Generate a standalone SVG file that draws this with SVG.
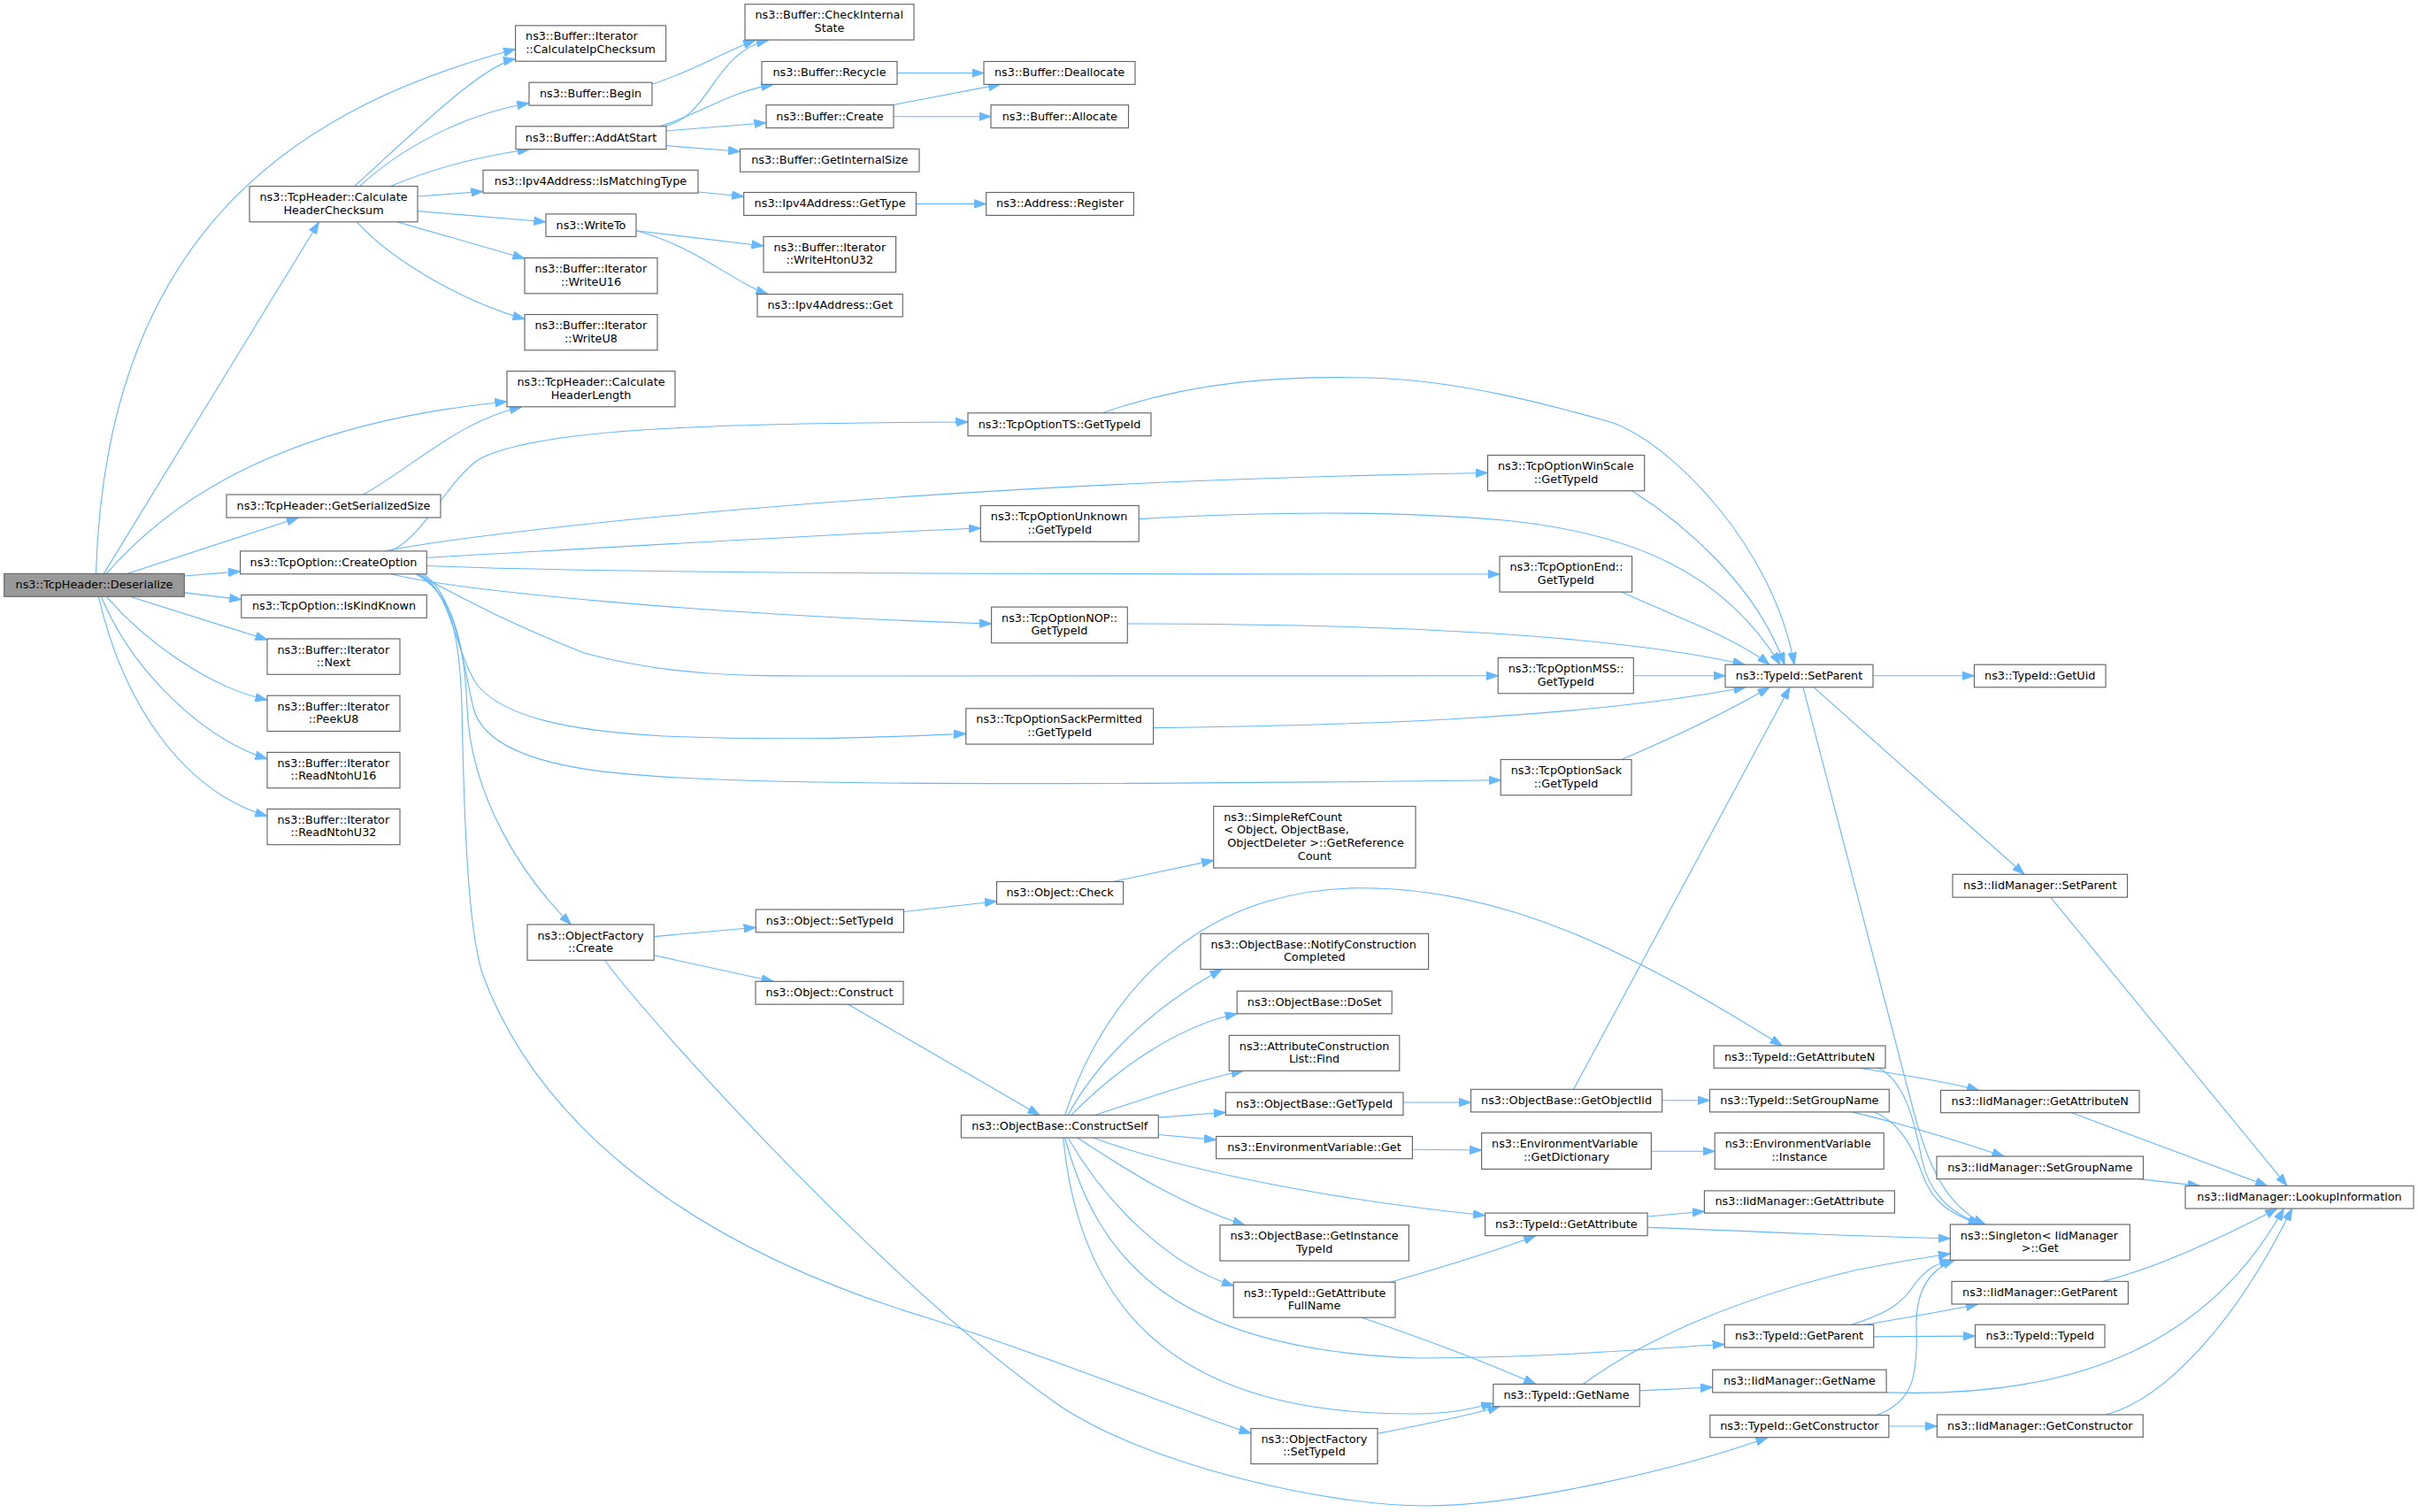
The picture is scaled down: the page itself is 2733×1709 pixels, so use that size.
<svg xmlns="http://www.w3.org/2000/svg" width="2733" height="1709" viewBox="0 0 2733 1709">
<style>
.n rect{fill:#ffffff;stroke:#666666;stroke-width:1.15}
.n.h rect{fill:#999999}
.n text{font-family:"DejaVu Sans","Liberation Sans",sans-serif;font-size:12.8px;fill:#000000}
.m{text-anchor:middle}
.s{text-anchor:start}
.e path{fill:none;stroke:#63b8ff;stroke-width:1.1;marker-end:url(#arr)}
</style>
<defs>
<marker id="arr" viewBox="0 0 14 10" refX="13.5" refY="5" markerWidth="14" markerHeight="10" markerUnits="userSpaceOnUse" orient="auto">
<path d="M0,0.3 L13.5,5 L0,9.7 z" fill="#63b8ff" stroke="#63b8ff" stroke-width="1"/>
</marker>
</defs>
<rect x="0" y="0" width="2733" height="1709" fill="#ffffff"/>
<g id="edges" class="e">
<path d="M108.5,648.4 C120,250 350,118 582.6,55.5"/>
<path d="M117.3,648.4 L360.5,251"/>
<path d="M120.3,648.4 C180,580 300,480 573,454"/>
<path d="M143.7,648.4 L337.4,585"/>
<path d="M208.3,651 L271.6,645.8"/>
<path d="M208.3,669.9 L272.8,677.6"/>
<path d="M146.7,674.3 L302,723"/>
<path d="M120.3,674.3 C160,720 230,775 302,791.2"/>
<path d="M114.4,674.3 C150,760 230,835 302,857.8"/>
<path d="M111.5,674.3 C140,800 210,895 302,922.5"/>
<path d="M400.7,210.5 C470,147.5 545,74 582.6,66.6"/>
<path d="M406.6,210.5 C450,170 520,130 598,116.5"/>
<path d="M441.2,210.5 C490,190 545,176 598.4,168.7"/>
<path d="M472,222 L546,216.4"/>
<path d="M472,238.6 L617,250.8"/>
<path d="M448.8,250.8 L593,292.2"/>
<path d="M403.6,250.8 C440,292 520,340 593,360.7"/>
<path d="M737,95 C780,82 815,60 853.6,45.5"/>
<path d="M751,142.8 C805,130 805,60 868.3,45.5"/>
<path d="M745,142.8 C790,130 820,105 874,95.4"/>
<path d="M752.7,148 L866,138.7"/>
<path d="M752.7,164.6 L836.6,171.3"/>
<path d="M1013.8,82.5 L1112,82.5"/>
<path d="M1008.5,118.7 L1130.6,95.4"/>
<path d="M1009.7,131.7 L1120,131.7"/>
<path d="M789,217 L840.7,222"/>
<path d="M1035.5,230.4 L1114.7,230.4"/>
<path d="M719.3,260.8 L863,278"/>
<path d="M719.3,260.8 C790,280 830,320 868,332.5"/>
<path d="M410.7,559 C470,525 520,475 589.6,460"/>
<path d="M441.7,622.9 C480,605 505,545 540,520 C600,485 800,478 1094,477"/>
<path d="M435,622.9 C520,605 1000,545 1681.5,534.5"/>
<path d="M482.3,630.3 C700,618 950,603 1108.3,597"/>
<path d="M482.3,639.5 C650,646 900,649 1695,649"/>
<path d="M441.7,648.8 C520,668 800,695 1120.6,705"/>
<path d="M470,648.8 C500,662 540,690 660,738 C760,765 850,764 920,764 L1693.2,763.8"/>
<path d="M475,648.8 C510,668 515,740 540,775 C570,810 640,826 750,832 C900,838 1000,833 1091.8,829.3"/>
<path d="M478,648.8 C515,670 525,760 535,800 C545,840 600,865 704,874.4 C800,884 1000,890 1696.2,881.8"/>
<path d="M470,648.8 C510,670 525,720 528,800 C532,900 590,990 645.4,1045"/>
<path d="M472,648.8 C510,670 520,720 522,800 C525,950 530,1050 545,1100 C600,1250 750,1400 1050,1490 C1200,1538 1350,1600 1413.9,1620"/>
<path d="M683.5,1085.3 C730,1150 1000,1450 1192.8,1585.5 C1292.8,1655.5 1500,1702 1610,1702 C1720,1702 1900,1660 1998,1624.7"/>
<path d="M739.2,1058.6 L854.2,1048.3"/>
<path d="M739.2,1079.7 L874,1109.3"/>
<path d="M1021.4,1030.5 L1126.5,1018.7"/>
<path d="M1257.9,996.5 L1371.7,972.4"/>
<path d="M958.7,1135.2 L1175,1260.4"/>
<path d="M1203.6,1260.4 C1240,1150 1330,1010 1527.8,1003.9 C1700,1000 1850,1080 2014.2,1182"/>
<path d="M1207,1260.4 C1240,1200 1300,1140 1381,1095.6"/>
<path d="M1210.7,1260.4 C1260,1210 1330,1160 1398.2,1145.8"/>
<path d="M1237.5,1260.4 C1300,1240 1350,1222 1405.3,1210.3"/>
<path d="M1309.3,1263.1 L1385.3,1257.3"/>
<path d="M1309.3,1282.5 L1374.6,1288.4"/>
<path d="M1235.7,1286 C1300,1310 1450,1350 1678.6,1373.8"/>
<path d="M1217.8,1286 C1270,1320 1330,1360 1407,1384.7"/>
<path d="M1207,1286 C1250,1360 1320,1430 1394.6,1453.4"/>
<path d="M1203.6,1286 C1240,1420 1320,1525 1600,1535 C1750,1535 1850,1525 1949.2,1519.5"/>
<path d="M1201.8,1286 C1220,1480 1330,1600 1600,1598 C1640,1598 1665,1592 1687.8,1586"/>
<path d="M1586,1246 L1662.5,1246"/>
<path d="M1778.6,1231.3 L2023,776.8"/>
<path d="M1878.6,1243.7 L1932.5,1243.7"/>
<path d="M1596.4,1299.2 L1674.6,1300"/>
<path d="M1866.4,1301.2 L1938.2,1301.2"/>
<path d="M1571.4,1449.2 C1620,1435 1680,1418 1735.7,1396.7"/>
<path d="M1539.2,1489.2 C1600,1510 1680,1540 1735.7,1564.5"/>
<path d="M1557,1620.4 C1600,1612 1660,1600 1695,1589.8"/>
<path d="M1862.1,1375 L1926.4,1369.2"/>
<path d="M1862.1,1387.4 C2000,1392 2100,1398 2204.3,1399.8"/>
<path d="M1853.2,1571.9 L1935.7,1568"/>
<path d="M1789.3,1564.5 C1850,1520 1950,1470 2100,1435 C2140,1427 2170,1422 2204.3,1417"/>
<path d="M2101.7,1207.2 C2150,1215 2200,1222 2236.7,1232.4"/>
<path d="M2123.3,1207.2 C2150,1220 2163,1260 2172,1310 C2180,1345 2200,1370 2240,1384"/>
<path d="M2093.3,1256.9 C2150,1270 2220,1292 2265,1307"/>
<path d="M2118.3,1256.9 C2150,1270 2163,1300 2174,1330 C2185,1360 2205,1372 2238,1384"/>
<path d="M2107,1497.3 C2150,1490 2200,1482 2235.5,1474"/>
<path d="M2117.8,1510.9 L2232.5,1510.1"/>
<path d="M2092.8,1497.3 C2130,1485 2150,1475 2165,1450 C2180,1432 2190,1428 2205.8,1424.3"/>
<path d="M2132,1573.9 C2330,1580 2490,1530 2581.3,1366"/>
<path d="M2134.9,1612 L2189.4,1612"/>
<path d="M2121.4,1599.5 C2160,1585 2168,1560 2166,1500 C2165,1460 2180,1435 2209.5,1424.3"/>
<path d="M2380.5,1599 C2450,1580 2530,1490 2590.6,1366"/>
<path d="M2376.8,1448.4 C2430,1435 2500,1405 2573.9,1366"/>
<path d="M2417.7,1332.6 L2486.5,1340.4"/>
<path d="M2341.5,1257.7 L2562.7,1340.4"/>
<path d="M2317.7,1014.2 L2585,1340.4"/>
<path d="M2117,763.8 L2231.4,763.8"/>
<path d="M2050,776.8 L2288,988.3"/>
<path d="M2038,776.8 L2160,1245 C2175,1305 2195,1362 2244,1384"/>
<path d="M1246,466.8 C1350,430 1450,425 1545,427 C1650,429 1760,460 1820,477 C1890,500 2005,620 2028,751.2"/>
<path d="M1844.6,554.8 C1900,590 1985,660 2017,751.2"/>
<path d="M1287.2,586.6 C1400,580 1550,575 1700,588 C1850,603 1950,650 2012,751.2"/>
<path d="M1832.7,669.1 C1900,700 1960,720 2000,751.2"/>
<path d="M1274.3,705 C1500,705 1800,712 1972,751.2"/>
<path d="M1846.3,763.8 L1950,763.8"/>
<path d="M1303.6,822.6 C1550,820 1800,810 1973,776.8"/>
<path d="M1832.7,858.5 C1900,830 1960,800 2000,776.8"/>
</g>
<g id="n_deser" class="n h"><rect x="4.7" y="648.4" width="203.6" height="25.9"/><text class="m" x="106.5" y="665.2">ns3::TcpHeader::Deserialize</text></g>
<g id="n_chc" class="n"><rect x="282" y="210.5" width="190" height="40.3"/><text class="s" x="293.5" y="227">ns3::TcpHeader::Calculate</text><text class="m" x="377" y="241.5">HeaderChecksum</text></g>
<g id="n_gss" class="n"><rect x="256" y="559" width="242" height="26"/><text class="m" x="377" y="575.9">ns3::TcpHeader::GetSerializedSize</text></g>
<g id="n_co" class="n"><rect x="271.6" y="622.9" width="210.7" height="25.9"/><text class="m" x="377" y="639.7">ns3::TcpOption::CreateOption</text></g>
<g id="n_ikk" class="n"><rect x="272.8" y="672.5" width="209.5" height="25.8"/><text class="m" x="377.5" y="689.3">ns3::TcpOption::IsKindKnown</text></g>
<g id="n_next" class="n"><rect x="302" y="722" width="150" height="40.3"/><text class="s" x="313.5" y="738.5">ns3::Buffer::Iterator</text><text class="m" x="377" y="753">::Next</text></g>
<g id="n_peek" class="n"><rect x="302" y="786.2" width="150" height="40.3"/><text class="s" x="313.5" y="802.7">ns3::Buffer::Iterator</text><text class="m" x="377" y="817.2">::PeekU8</text></g>
<g id="n_rn16" class="n"><rect x="302" y="850.4" width="150" height="40.3"/><text class="s" x="313.5" y="866.9">ns3::Buffer::Iterator</text><text class="m" x="377" y="881.4">::ReadNtohU16</text></g>
<g id="n_rn32" class="n"><rect x="302" y="914.4" width="150" height="40.3"/><text class="s" x="313.5" y="930.9">ns3::Buffer::Iterator</text><text class="m" x="377" y="945.4">::ReadNtohU32</text></g>
<g id="n_calcip" class="n"><rect x="582.6" y="28.9" width="170.1" height="40.3"/><text class="s" x="594.1" y="45.4">ns3::Buffer::Iterator</text><text class="m" x="667.65" y="59.9">::CalculateIpChecksum</text></g>
<g id="n_begin" class="n"><rect x="598" y="93.2" width="139" height="25.9"/><text class="m" x="667.5" y="110">ns3::Buffer::Begin</text></g>
<g id="n_addat" class="n"><rect x="583" y="142.8" width="170" height="25.9"/><text class="m" x="668" y="159.6">ns3::Buffer::AddAtStart</text></g>
<g id="n_ismatch" class="n"><rect x="546" y="192.3" width="243" height="25.9"/><text class="m" x="667.5" y="209.1">ns3::Ipv4Address::IsMatchingType</text></g>
<g id="n_writeto" class="n"><rect x="617" y="241.9" width="102" height="25.5"/><text class="m" x="668" y="258.5">ns3::WriteTo</text></g>
<g id="n_wu16" class="n"><rect x="593" y="291.5" width="150" height="40.3"/><text class="s" x="604.5" y="308">ns3::Buffer::Iterator</text><text class="m" x="668" y="322.5">::WriteU16</text></g>
<g id="n_wu8" class="n"><rect x="593" y="355.5" width="150" height="40.3"/><text class="s" x="604.5" y="372">ns3::Buffer::Iterator</text><text class="m" x="668" y="386.5">::WriteU8</text></g>
<g id="n_chl" class="n"><rect x="573" y="419.5" width="190" height="40.3"/><text class="s" x="584.5" y="436">ns3::TcpHeader::Calculate</text><text class="m" x="668" y="450.5">HeaderLength</text></g>
<g id="n_ofcreate" class="n"><rect x="596" y="1045" width="143.2" height="40.3"/><text class="s" x="607.5" y="1061.5">ns3::ObjectFactory</text><text class="m" x="667.6" y="1076">::Create</text></g>
<g id="n_checkint" class="n"><rect x="842" y="4.8" width="191" height="40.3"/><text class="s" x="853.5" y="21.3">ns3::Buffer::CheckInternal</text><text class="m" x="937.5" y="35.8">State</text></g>
<g id="n_recycle" class="n"><rect x="861" y="69.5" width="153" height="25.9"/><text class="m" x="937.5" y="86.3">ns3::Buffer::Recycle</text></g>
<g id="n_create" class="n"><rect x="866" y="118.7" width="144" height="25.9"/><text class="m" x="938" y="135.5">ns3::Buffer::Create</text></g>
<g id="n_getint" class="n"><rect x="836.6" y="168.3" width="202.4" height="25.9"/><text class="m" x="937.8" y="185.1">ns3::Buffer::GetInternalSize</text></g>
<g id="n_gettype" class="n"><rect x="840.7" y="217.5" width="194.8" height="25.9"/><text class="m" x="938.1" y="234.3">ns3::Ipv4Address::GetType</text></g>
<g id="n_whton" class="n"><rect x="863" y="267.4" width="149.6" height="40.4"/><text class="s" x="874.5" y="283.9">ns3::Buffer::Iterator</text><text class="m" x="937.8" y="298.4">::WriteHtonU32</text></g>
<g id="n_ipv4get" class="n"><rect x="856" y="332.5" width="164.3" height="25.5"/><text class="m" x="938.15" y="349.1">ns3::Ipv4Address::Get</text></g>
<g id="n_objsettid" class="n"><rect x="854.2" y="1028" width="167.2" height="25.8"/><text class="m" x="937.8" y="1044.8">ns3::Object::SetTypeId</text></g>
<g id="n_objconstr" class="n"><rect x="854" y="1109.3" width="167" height="25.9"/><text class="m" x="937.5" y="1126.1">ns3::Object::Construct</text></g>
<g id="n_dealloc" class="n"><rect x="1112" y="69.5" width="171" height="25.9"/><text class="m" x="1197.5" y="86.3">ns3::Buffer::Deallocate</text></g>
<g id="n_alloc" class="n"><rect x="1120" y="118.7" width="155.5" height="25.9"/><text class="m" x="1197.75" y="135.5">ns3::Buffer::Allocate</text></g>
<g id="n_register" class="n"><rect x="1114.7" y="217.5" width="166.7" height="25.9"/><text class="m" x="1198" y="234.3">ns3::Address::Register</text></g>
<g id="n_ts" class="n"><rect x="1094" y="466.8" width="207" height="25.9"/><text class="m" x="1197.5" y="483.6">ns3::TcpOptionTS::GetTypeId</text></g>
<g id="n_unknown" class="n"><rect x="1108.3" y="571.5" width="178.9" height="40.7"/><text class="s" x="1119.8" y="588.2">ns3::TcpOptionUnknown</text><text class="m" x="1197.75" y="602.7">::GetTypeId</text></g>
<g id="n_nop" class="n"><rect x="1120.6" y="686.1" width="153.7" height="40.7"/><text class="s" x="1132.1" y="702.8">ns3::TcpOptionNOP::</text><text class="m" x="1197.45" y="717.3">GetTypeId</text></g>
<g id="n_sackperm" class="n"><rect x="1091.8" y="800.8" width="211.8" height="40.3"/><text class="s" x="1103.3" y="817.3">ns3::TcpOptionSackPermitted</text><text class="m" x="1197.7" y="831.8">::GetTypeId</text></g>
<g id="n_check" class="n"><rect x="1126.5" y="996.5" width="143.1" height="25.5"/><text class="m" x="1198" y="1013.1">ns3::Object::Check</text></g>
<g id="n_cself" class="n"><rect x="1086.4" y="1260.4" width="222.9" height="25.6"/><text class="m" x="1197.85" y="1277.1">ns3::ObjectBase::ConstructSelf</text></g>
<g id="n_simpleref" class="n"><rect x="1371.7" y="911.4" width="228.3" height="69.6"/><text class="s" x="1383.2" y="927.7">ns3::SimpleRefCount</text><text class="s" x="1383.2" y="942.3">&lt; Object, ObjectBase,</text><text class="s" x="1387.2" y="956.9">ObjectDeleter &gt;::GetReference</text><text class="m" x="1485.85" y="971.5">Count</text></g>
<g id="n_notify" class="n"><rect x="1357" y="1055.3" width="257.6" height="40.3"/><text class="s" x="1368.5" y="1071.8">ns3::ObjectBase::NotifyConstruction</text><text class="m" x="1485.8" y="1086.3">Completed</text></g>
<g id="n_doset" class="n"><rect x="1398.2" y="1120.2" width="175" height="25.6"/><text class="m" x="1485.7" y="1136.9">ns3::ObjectBase::DoSet</text></g>
<g id="n_find" class="n"><rect x="1389.3" y="1170.3" width="192.5" height="40"/><text class="s" x="1400.8" y="1186.6">ns3::AttributeConstruction</text><text class="m" x="1485.55" y="1201.1">List::Find</text></g>
<g id="n_obgettid" class="n"><rect x="1385.3" y="1234.8" width="200.7" height="25.6"/><text class="m" x="1485.65" y="1251.5">ns3::ObjectBase::GetTypeId</text></g>
<g id="n_envget" class="n"><rect x="1374.6" y="1284.5" width="221.8" height="25.2"/><text class="m" x="1485.5" y="1301">ns3::EnvironmentVariable::Get</text></g>
<g id="n_instid" class="n"><rect x="1378.9" y="1384.7" width="213.5" height="40.4"/><text class="s" x="1390.4" y="1401.2">ns3::ObjectBase::GetInstance</text><text class="m" x="1485.65" y="1415.7">TypeId</text></g>
<g id="n_attrfull" class="n"><rect x="1394.2" y="1449.2" width="182.8" height="40"/><text class="s" x="1405.7" y="1465.5">ns3::TypeId::GetAttribute</text><text class="m" x="1485.6" y="1480">FullName</text></g>
<g id="n_ofsettid" class="n"><rect x="1413.9" y="1614.6" width="143.1" height="40"/><text class="s" x="1425.4" y="1630.9">ns3::ObjectFactory</text><text class="m" x="1485.45" y="1645.4">::SetTypeId</text></g>
<g id="n_winscale" class="n"><rect x="1681.5" y="514.5" width="177.2" height="40.3"/><text class="s" x="1693" y="531">ns3::TcpOptionWinScale</text><text class="m" x="1770.1" y="545.5">::GetTypeId</text></g>
<g id="n_end" class="n"><rect x="1695" y="628.8" width="149.6" height="40.3"/><text class="s" x="1706.5" y="645.3">ns3::TcpOptionEnd::</text><text class="m" x="1769.8" y="659.8">GetTypeId</text></g>
<g id="n_mss" class="n"><rect x="1693.2" y="743.5" width="153.1" height="40.3"/><text class="s" x="1704.7" y="760">ns3::TcpOptionMSS::</text><text class="m" x="1769.75" y="774.5">GetTypeId</text></g>
<g id="n_sack" class="n"><rect x="1696.2" y="858.5" width="147.8" height="40.3"/><text class="s" x="1707.7" y="875">ns3::TcpOptionSack</text><text class="m" x="1770.1" y="889.5">::GetTypeId</text></g>
<g id="n_getobjiid" class="n"><rect x="1662.5" y="1231.3" width="216.1" height="25.6"/><text class="m" x="1770.55" y="1248">ns3::ObjectBase::GetObjectIid</text></g>
<g id="n_getdict" class="n"><rect x="1674.6" y="1280.6" width="191.8" height="40.8"/><text class="s" x="1686.1" y="1297.3">ns3::EnvironmentVariable</text><text class="m" x="1770.5" y="1311.8">::GetDictionary</text></g>
<g id="n_tgetattr" class="n"><rect x="1678.6" y="1371.1" width="183.5" height="25.6"/><text class="m" x="1770.35" y="1387.8">ns3::TypeId::GetAttribute</text></g>
<g id="n_tgetname" class="n"><rect x="1687.8" y="1564.5" width="165.4" height="25.3"/><text class="m" x="1770.5" y="1581">ns3::TypeId::GetName</text></g>
<g id="n_setparent" class="n"><rect x="1950" y="751.2" width="167" height="25.6"/><text class="m" x="2033.5" y="767.9">ns3::TypeId::SetParent</text></g>
<g id="n_getattrn" class="n"><rect x="1937.1" y="1182" width="193.9" height="25.2"/><text class="m" x="2034.05" y="1198.5">ns3::TypeId::GetAttributeN</text></g>
<g id="n_setgroup" class="n"><rect x="1932.5" y="1231.3" width="202.8" height="25.6"/><text class="m" x="2033.9" y="1248">ns3::TypeId::SetGroupName</text></g>
<g id="n_instance" class="n"><rect x="1938.2" y="1280.6" width="191" height="40.8"/><text class="s" x="1949.7" y="1297.3">ns3::EnvironmentVariable</text><text class="m" x="2033.7" y="1311.8">::Instance</text></g>
<g id="n_iidgetattr" class="n"><rect x="1926.4" y="1345.9" width="215" height="25.2"/><text class="m" x="2033.9" y="1362.4">ns3::IidManager::GetAttribute</text></g>
<g id="n_tgetparent" class="n"><rect x="1949.2" y="1497.3" width="168.6" height="25.7"/><text class="m" x="2033.5" y="1514">ns3::TypeId::GetParent</text></g>
<g id="n_iidgetname" class="n"><rect x="1935.7" y="1548.2" width="196.4" height="25.7"/><text class="m" x="2033.9" y="1564.9">ns3::IidManager::GetName</text></g>
<g id="n_tgetctor" class="n"><rect x="1932.8" y="1599.5" width="202.1" height="25.2"/><text class="m" x="2033.85" y="1616">ns3::TypeId::GetConstructor</text></g>
<g id="n_getuid" class="n"><rect x="2231.4" y="751.2" width="148.6" height="25.6"/><text class="m" x="2305.7" y="767.9">ns3::TypeId::GetUid</text></g>
<g id="n_iidsetparent" class="n"><rect x="2207" y="988.3" width="197.5" height="25.9"/><text class="m" x="2305.75" y="1005.1">ns3::IidManager::SetParent</text></g>
<g id="n_iidgetattrn" class="n"><rect x="2193.5" y="1232.4" width="224.5" height="25.3"/><text class="m" x="2305.75" y="1248.9">ns3::IidManager::GetAttributeN</text></g>
<g id="n_iidsetgroup" class="n"><rect x="2189" y="1307" width="233.5" height="25.6"/><text class="m" x="2305.75" y="1323.7">ns3::IidManager::SetGroupName</text></g>
<g id="n_singleton" class="n"><rect x="2204.3" y="1384" width="203" height="40.3"/><text class="s" x="2215.8" y="1400.5">ns3::Singleton&lt; IidManager</text><text class="m" x="2305.8" y="1415">&gt;::Get</text></g>
<g id="n_iidgetparent" class="n"><rect x="2206" y="1448.4" width="199.4" height="25.6"/><text class="m" x="2305.7" y="1465.1">ns3::IidManager::GetParent</text></g>
<g id="n_typeidtypeid" class="n"><rect x="2232.5" y="1497.3" width="146.5" height="25.7"/><text class="m" x="2305.75" y="1514">ns3::TypeId::TypeId</text></g>
<g id="n_iidgetctor" class="n"><rect x="2189.4" y="1599" width="232.8" height="25.3"/><text class="m" x="2305.8" y="1615.5">ns3::IidManager::GetConstructor</text></g>
<g id="n_lookup" class="n"><rect x="2470" y="1340.4" width="258" height="25.6"/><text class="m" x="2599" y="1357.1">ns3::IidManager::LookupInformation</text></g>
</svg>
